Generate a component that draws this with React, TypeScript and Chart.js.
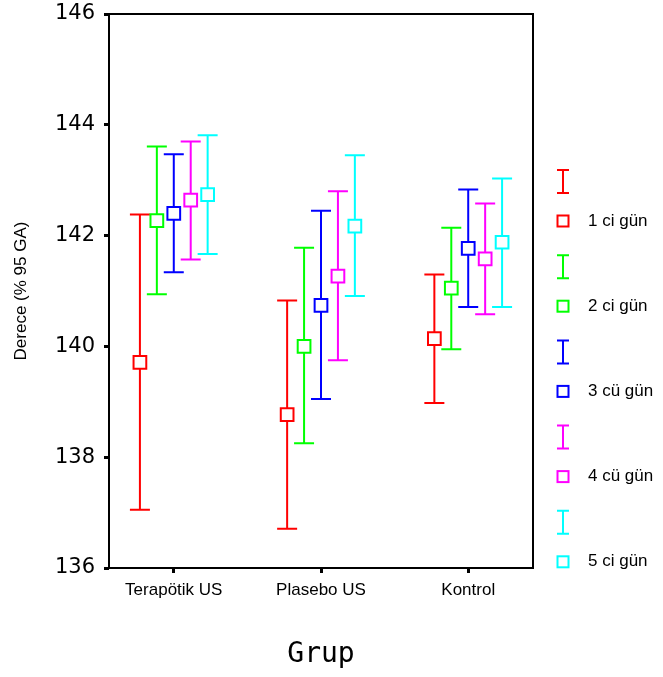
import React, { useEffect, useRef } from 'react';
import { Chart, registerables } from 'chart.js';

Chart.register(...registerables);

// ---- Data ----
const groups = ['Terapötik US', 'Plasebo US', 'Kontrol'];
const seriesNames = ['1 ci gün', '2 ci gün', '3 cü gün', '4 cü gün', '5 ci gün'];
const seriesColors = ['#ff0000', '#00ff00', '#0000ff', '#ff00ff', '#00ffff'];

const day1Mean = [139.71, 138.77, 140.14];
const day1Low = [137.05, 136.71, 138.98];
const day1High = [142.38, 140.83, 141.3];

const day2Mean = [142.27, 140.0, 141.05];
const day2Low = [140.94, 138.25, 139.95];
const day2High = [143.61, 141.78, 142.14];

const day3Mean = [142.4, 140.74, 141.77];
const day3Low = [141.34, 139.05, 140.71];
const day3High = [143.47, 142.45, 142.83];

const day4Mean = [142.64, 141.27, 141.58];
const day4Low = [141.57, 139.75, 140.58];
const day4High = [143.7, 142.8, 142.58];

const day5Mean = [142.74, 142.17, 141.88];
const day5Low = [141.67, 140.91, 140.71];
const day5High = [143.81, 143.45, 143.03];

const yMin = 136;
const yMax = 146;
const yStep = 2;

const means = [day1Mean, day2Mean, day3Mean, day4Mean, day5Mean];
const lows = [day1Low, day2Low, day3Low, day4Low, day5Low];
const highs = [day1High, day2High, day3High, day4High, day5High];

const SERIES_SPACING = 0.115;

const errorBarPlugin = {
  id: 'errorBars',
  beforeDatasetsDraw(chart: any) {
    const { ctx, scales } = chart;
    const x = scales.x;
    const y = scales.y;
    chart.data.datasets.forEach((ds: any) => {
      ds.data.forEach((pt: any) => {
        const px = x.getPixelForValue(pt.x);
        const yl = y.getPixelForValue(pt.low);
        const yh = y.getPixelForValue(pt.high);
        ctx.save();
        ctx.strokeStyle = ds.borderColor;
        ctx.lineWidth = 2;
        ctx.beginPath();
        ctx.moveTo(px, yl);
        ctx.lineTo(px, yh);
        ctx.moveTo(px - 10, yl);
        ctx.lineTo(px + 10, yl);
        ctx.moveTo(px - 10, yh);
        ctx.lineTo(px + 10, yh);
        ctx.stroke();
        ctx.restore();
      });
    });
  },
};

const framePlugin = {
  id: 'frame',
  afterDraw(chart: any) {
    const { ctx, chartArea } = chart;
    ctx.save();
    ctx.strokeStyle = '#000';
    ctx.lineWidth = 2;
    ctx.strokeRect(chartArea.left, chartArea.top, chartArea.right - chartArea.left, chartArea.bottom - chartArea.top);
    ctx.restore();
  },
};

const legendPlugin = {
  id: 'customLegend',
  afterDraw(chart: any) {
    const { ctx, chartArea } = chart;
    const lx = chartArea.right + 30;
    ctx.save();
    seriesNames.forEach((name, i) => {
      const sy = 221 + 85.2 * i;
      const color = seriesColors[i];
      ctx.strokeStyle = color;
      ctx.lineWidth = 2;
      ctx.beginPath();
      ctx.moveTo(lx, sy - 51);
      ctx.lineTo(lx, sy - 28);
      ctx.moveTo(lx - 6, sy - 51);
      ctx.lineTo(lx + 6, sy - 51);
      ctx.moveTo(lx - 6, sy - 28);
      ctx.lineTo(lx + 6, sy - 28);
      ctx.stroke();
      ctx.fillStyle = '#fff';
      ctx.fillRect(lx - 5.5, sy - 5.5, 11, 11);
      ctx.strokeRect(lx - 5.5, sy - 5.5, 11, 11);
      ctx.fillStyle = '#000';
      ctx.font = '17px "Liberation Sans", Arial, sans-serif';
      ctx.textAlign = 'left';
      ctx.textBaseline = 'middle';
      ctx.fillText(name, lx + 25, sy);
    });
    ctx.restore();
  },
};

export default function App() {
  const canvasRef = useRef<HTMLCanvasElement | null>(null);

  useEffect(() => {
    if (!canvasRef.current) return;
    const datasets = seriesNames.map((name, s) => ({
      label: name,
      data: groups.map((_, g) => ({
        x: g + 1 + (s - 2) * SERIES_SPACING,
        y: means[s][g],
        low: lows[s][g],
        high: highs[s][g],
      })),
      borderColor: seriesColors[s],
      backgroundColor: '#ffffff',
      pointStyle: 'rect',
      pointRadius: 9,
      pointBorderWidth: 2,
      showLine: false,
    }));

    const chart = new Chart(canvasRef.current, {
      type: 'scatter',
      data: { datasets } as any,
      plugins: [errorBarPlugin, framePlugin, legendPlugin],
      options: {
        animation: false,
        responsive: false,
        layout: { padding: { left: 0, right: 130, top: 14, bottom: 0 } },
        plugins: {
          legend: { display: false },
          tooltip: { enabled: false },
        },
        scales: {
          x: {
            type: 'linear',
            min: 0.56,
            max: 3.44,
            afterFit: (scale: any) => {
              scale.height = 109;
              scale.paddingLeft = 0;
              scale.paddingRight = 0;
            },
            afterBuildTicks: (scale: any) => {
              scale.ticks = groups.map((_, i) => ({ value: i + 1 }));
            },
            ticks: {
              callback: (v: any) => groups[Math.round(v) - 1] ?? '',
              color: '#000',
              font: { family: '"Liberation Sans", Arial, sans-serif', size: 17 },
              padding: 7,
              maxRotation: 0,
              autoSkip: false,
            },
            grid: {
              drawOnChartArea: false,
              drawTicks: true,
              tickLength: 5,
              tickWidth: 3,
              tickColor: '#000',
            },
            border: { display: false },
            title: {
              display: true,
              text: 'Grup',
              color: '#000',
              font: { family: '"DejaVu Sans Mono", monospace', size: 28 },
              padding: { top: 0, bottom: 5 },
            },
          },
          y: {
            min: yMin,
            max: yMax,
            afterFit: (scale: any) => {
              scale.width = 109;
              scale.paddingTop = 0;
              scale.paddingBottom = 0;
            },
            ticks: {
              stepSize: yStep,
              color: '#000',
              font: { family: '"DejaVu Sans", sans-serif', size: 21 },
              padding: 9,
            },
            grid: {
              drawOnChartArea: false,
              drawTicks: true,
              tickLength: 5,
              tickWidth: 3,
              tickColor: '#000',
            },
            border: { display: false },
            title: {
              display: true,
              text: 'Derece (% 95 GA)',
              color: '#000',
              font: { family: '"Liberation Sans", Arial, sans-serif', size: 17 },
              padding: { top: 11, bottom: 0 },
            },
          },
        },
      } as any,
    });
    return () => chart.destroy();
  }, []);

  return (
    <div style={{ position: 'fixed', left: 0, top: 0, width: 663, height: 677, background: '#fff' }}>
      <canvas ref={canvasRef} width={663} height={677} />
    </div>
  );
}
